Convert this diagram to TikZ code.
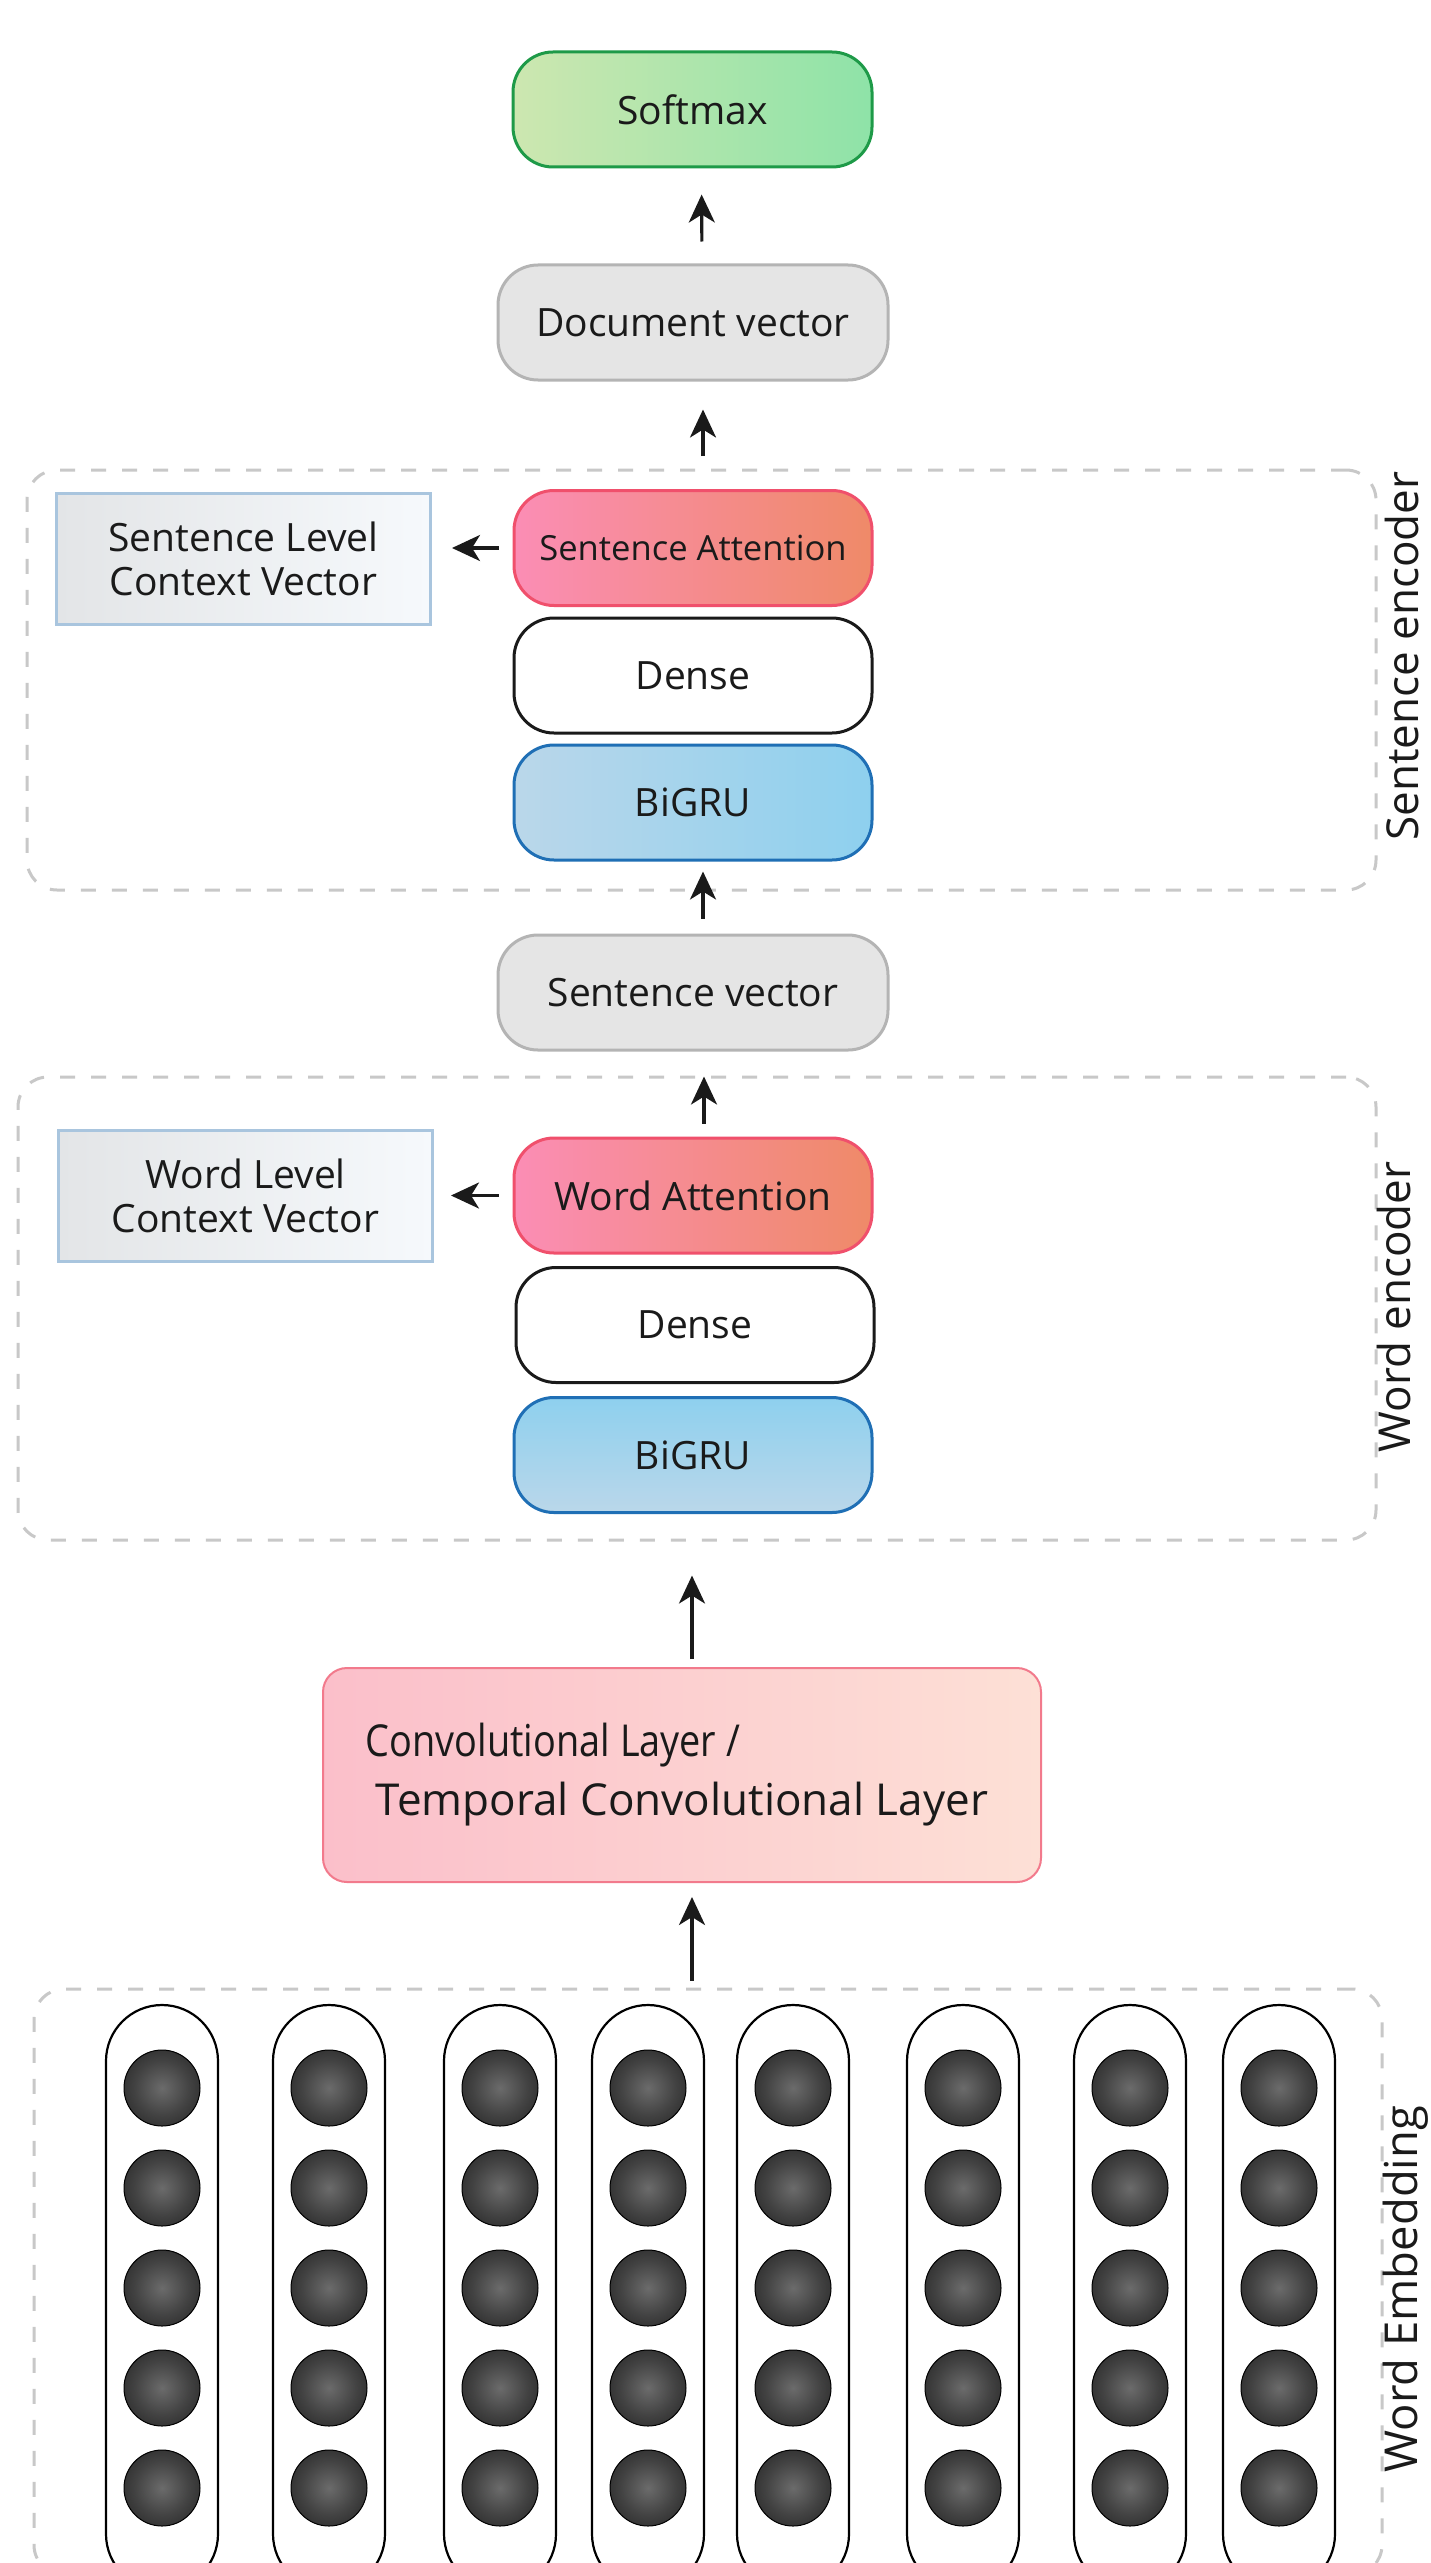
\documentclass[tikz,border=0pt]{standalone}
\usepackage{fontspec}
\setmainfont{Open Sans}
\usetikzlibrary{arrows.meta,calc}
\definecolor{txt}{HTML}{1A1A1A}
\definecolor{softL}{HTML}{CDE7B0}
\definecolor{softR}{HTML}{8EE3A8}
\definecolor{softD}{HTML}{1E9A48}
\definecolor{greyF}{HTML}{E5E5E5}
\definecolor{greyD}{HTML}{B4B4B4}
\definecolor{attL}{HTML}{FB8DB5}
\definecolor{attR}{HTML}{EF8A68}
\definecolor{attD}{HTML}{F0506C}
\definecolor{gruL}{HTML}{BAD7EA}
\definecolor{gruR}{HTML}{8ED0EE}
\definecolor{gruD}{HTML}{1F6FB5}
\definecolor{convL}{HTML}{FBBFCA}
\definecolor{convR}{HTML}{FDE0D6}
\definecolor{convD}{HTML}{F27A8C}
\definecolor{ctxL}{HTML}{E3E5E7}
\definecolor{ctxR}{HTML}{F6F9FC}
\definecolor{ctxD}{HTML}{A9C5DE}
\definecolor{dashC}{HTML}{C8C8C8}
\pgfdeclareradialshading{myball}{\pgfpoint{0bp}{0bp}}{color(0bp)=(black!58); color(18bp)=(black!74); color(36bp)=(black!87); color(50bp)=(black!93)}
\begin{document}
\begin{tikzpicture}[x=0.5pt,y=-0.5pt,
  box/.style={rectangle, rounded corners=20pt, minimum width=179pt, minimum height=57.5pt,
    line width=1.5pt, inner sep=0pt, text=txt, font=\fontsize{19.5}{22}\selectfont, align=center},
  gbox/.style={left color=softL, right color=softR, draw=softD},
  greybox/.style={fill=greyF, draw=greyD, minimum width=195pt},
  attbox/.style={left color=attL, right color=attR, draw=attD},
  densebox/.style={fill=white, draw=txt},
  bigrubox/.style={left color=gruL, right color=gruR, draw=gruD},
  bigruvbox/.style={top color=gruR, bottom color=gruL, draw=gruD},
  ctxbox/.style={rectangle, minimum width=187pt, minimum height=65.5pt, line width=1.5pt,
    left color=ctxL, right color=ctxR, draw=ctxD, inner sep=0pt, text=txt,
    font=\fontsize{19.5}{22}\selectfont, align=center},
  encbox/.style={rectangle, rounded corners=15pt, draw=dashC, line width=1.5pt,
    dash pattern=on 7.5pt off 8pt, inner sep=0pt},
  sidelabel/.style={rotate=90, anchor=base, inner sep=0pt, text=txt, font=\fontsize{22}{24}\selectfont},
  arr/.style={-{Stealth[length=14pt,width=13pt,inset=4pt]}, line width=1.6pt, draw=txt},
  capsule/.style={rectangle, rounded corners=28pt, minimum width=56pt, minimum height=292.5pt,
    draw=black, line width=1.1pt, inner sep=0pt},
  ballnode/.style={circle, minimum size=38pt, inner sep=0pt, shading=myball, draw=black, line width=0.5pt}
]
\useasboundingbox (0,0) rectangle (1430,2563);
\fill[white] (0,0) rectangle (1430,2563);
\clip (0,0) rectangle (1430,2563);

% top
\node[box, gbox, minimum width=179.5pt] (soft) at (692.5,109.5) {Softmax};
\node[box, greybox] (doc) at (693,322.5) {Document vector};

% sentence encoder
\node[encbox, minimum width=674.5pt, minimum height=210pt] (senc) at (701.5,680) {};
\node[box, attbox, font=\fontsize{17.3}{20}\selectfont] (satt) at (693,548) {Sentence Attention};
\node[box, densebox] (sdense) at (693,675.5) {Dense};
\node[box, bigrubox] (sbigru) at (693,802.5) {BiGRU};
\node[ctxbox] (sctx) at (243.5,558.5) {Sentence Level\\Context Vector};
\node[sidelabel] (slab) at (1418,656) {Sentence encoder};

\node[box, greybox] (svec) at (693,992.5) {Sentence vector};

% word encoder
\node[encbox, minimum width=679pt, minimum height=231.5pt] (wenc) at (697,1308.5) {};
\node[box, attbox] (watt) at (693,1195.5) {Word Attention};
\node[box, densebox] (wdense) at (695,1325) {Dense};
\node[box, bigruvbox] (wbigru) at (693,1455) {BiGRU};
\node[ctxbox] (wctx) at (245.5,1196) {Word Level\\Context Vector};
\node[sidelabel] (wlab) at (1410,1307) {Word encoder};

% convolution
\node[rectangle, rounded corners=12pt, minimum width=359pt, minimum height=107pt,
  left color=convL, right color=convR, draw=convD, line width=1pt, inner sep=0pt,
  text=txt, align=left, font=\fontsize{22}{29.5}\selectfont] (conv) at (682,1775)
  {\hspace*{-5pt}\scalebox{0.86}[1]{Convolutional Layer /}\\Temporal Convolutional Layer};

% embedding
\node[encbox, minimum width=674pt, minimum height=293pt] (emb) at (708,2282) {};
\node[sidelabel, font=\fontsize{22.7}{24}\selectfont] (elab) at (1417,2289) {Word Embedding};
\foreach \i/\cx in {1/162,2/329,3/500,4/648,5/793,6/963,7/1130,8/1279}{
  \node[capsule] (cap\i) at (\cx,2297.5) {};
  \foreach \j/\cy in {1/2088,2/2188,3/2288,4/2388,5/2488}{
    \node[ballnode] (ball\i-\j) at (\cx,\cy) {};
  }
}

% arrows
\draw[arr, shorten <=11pt, shorten >=13pt] ([xshift=4.5pt]doc.north) -- ([xshift=4.5pt]soft.south);
\draw[arr, shorten <=16.5pt, shorten >=14pt] ([xshift=5pt]satt.north) -- ([xshift=5pt]doc.south);
\draw[arr, shorten <=7.5pt, shorten >=5pt] ([xshift=5pt]svec.north) -- ([xshift=5pt]sbigru.south);
\draw[arr, shorten <=6.5pt, shorten >=12.5pt] ([xshift=5.5pt]watt.north) -- ([xshift=5.5pt]svec.south);
\coordinate (c5) at ([xshift=5pt]conv.north);
\draw[arr, shorten <=4pt, shorten >=17pt] (c5) -- (c5 |- wenc.south);
\coordinate (c6) at ([xshift=5pt]conv.south);
\draw[arr, shorten <=3.5pt, shorten >=7pt] (c6 |- emb.north) -- (c6);
\draw[arr, shorten <=7pt, shorten >=10pt] (satt.west) -- (satt.west -| sctx.east);
\draw[arr, shorten <=7pt, shorten >=8.5pt] (watt.west) -- (watt.west -| wctx.east);
\end{tikzpicture}
\end{document}
